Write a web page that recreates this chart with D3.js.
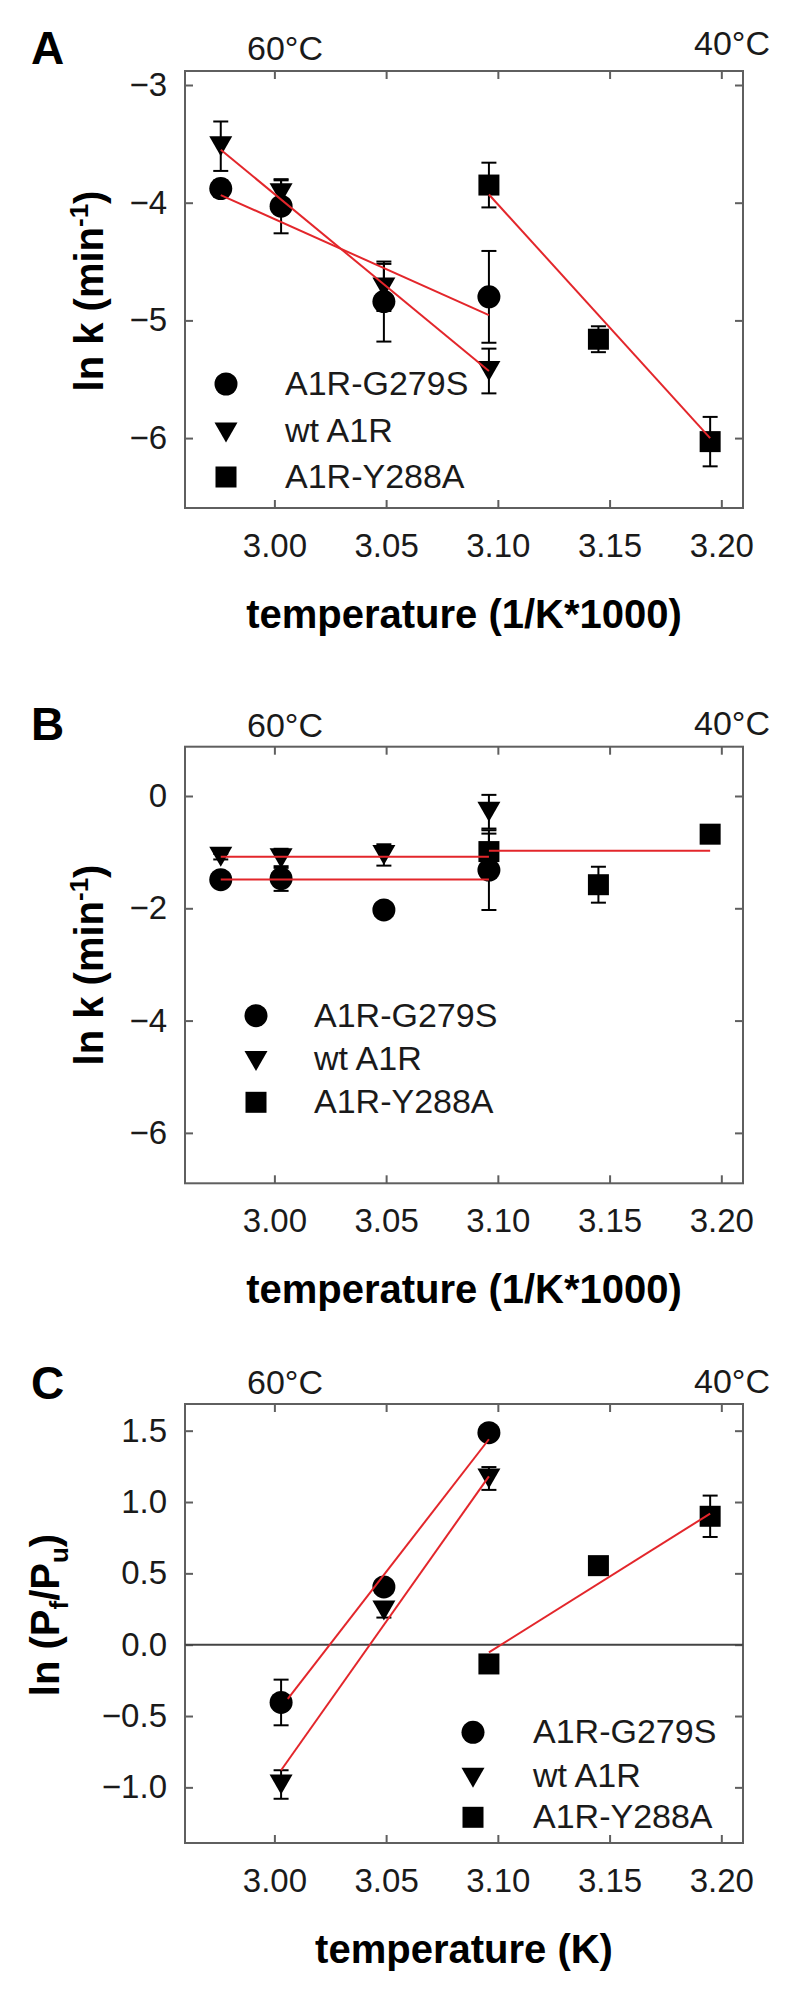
<!DOCTYPE html>
<html><head><meta charset="utf-8">
<script src="https://cdn.jsdelivr.net/npm/d3@7"></script>
<style>body{margin:0;background:#fff}</style>
</head><body>
<svg id="chart" width="800" height="2002" xmlns="http://www.w3.org/2000/svg"></svg>
<script>
// ---------- data ----------
const seriesNames = ["A1R-G279S", "wt A1R", "A1R-Y288A"];
const xTicks = [3.00, 3.05, 3.10, 3.15, 3.20];
const tempLabels = ["60°C", "40°C"];

// Panel A: ln k (min^-1)
const aTicks = [-3, -4, -5, -6];
const aX_G = [2.976, 3.003, 3.049, 3.096];
const aY_G = [-3.88, -4.03, -4.84, -4.80];
const aE_G = [0.07, 0.23, 0.34, 0.39];
const aX_W = [2.976, 3.003, 3.049, 3.096];
const aY_W = [-3.52, -3.92, -4.72, -5.43];
const aE_W = [0.21, 0.11, 0.20, 0.19];
const aX_Y = [3.096, 3.145, 3.195];
const aY_Y = [-3.85, -5.16, -6.03];
const aE_Y = [0.19, 0.11, 0.21];
const aFitX_G = [2.976, 3.096], aFitY_G = [-3.935, -4.955];
const aFitX_W = [2.976, 3.096], aFitY_W = [-3.55, -5.43];
const aFitX_Y = [3.096, 3.195], aFitY_Y = [-3.93, -6.00];

// Panel B: ln k (min^-1)
const bTicks = [0, -2, -4, -6];
const bX_G = [2.976, 3.003, 3.049, 3.096];
const bY_G = [-1.49, -1.47, -2.03, -1.32];
const bE_G = [0.08, 0.22, 0.0, 0.71];
const bX_W = [2.976, 3.003, 3.049, 3.096];
const bY_W = [-1.08, -1.11, -1.05, -0.28];
const bE_W = [0.05, 0.17, 0.19, 0.30];
const bX_Y = [3.096, 3.145, 3.195];
const bY_Y = [-0.99, -1.58, -0.68];
const bE_Y = [0.32, 0.32, 0.05];
const bFitX_G = [2.976, 3.096], bFitY_G = [-1.485, -1.485];
const bFitX_W = [2.976, 3.096], bFitY_W = [-1.08, -1.08];
const bFitX_Y = [3.096, 3.195], bFitY_Y = [-0.975, -0.975];

// Panel C: ln (Pf/Pu)
const cTicks = [1.5, 1.0, 0.5, 0.0, -0.5, -1.0];
const cX_G = [3.003, 3.049, 3.096];
const cY_G = [-0.405, 0.405, 1.486];
const cE_G = [0.16, 0.03, 0.03];
const cX_W = [3.003, 3.049, 3.096];
const cY_W = [-0.98, 0.24, 1.165];
const cE_W = [0.10, 0.05, 0.08];
const cX_Y = [3.096, 3.145, 3.195];
const cY_Y = [-0.135, 0.554, 0.90];
const cE_Y = [0.03, 0.03, 0.145];
const cFitX_G = [3.006, 3.096], cFitY_G = [-0.38, 1.44];
const cFitX_W = [3.003, 3.096], cFitY_W = [-0.88, 1.18];
const cFitX_Y = [3.096, 3.195], cFitY_Y = [-0.054, 0.919];

// ---------- drawing ----------
const svg = d3.select("#chart");
svg.append("rect").attr("width", 800).attr("height", 2002).attr("fill", "#fff");

const FONT = "'Liberation Sans', Arial, Helvetica, sans-serif";
const FRAME = "#5f5f5f";
const RED = "#e3262b";
const L = 185, R = 743;
const x = d3.scaleLinear().domain([2.96, 3.2097]).range([L, R]);

function zip(xs, ys, es) { return xs.map((v, i) => ({x: v, y: ys[i], e: es ? es[i] : 0})); }

function marker(sel, kind) {
  if (kind === 0) sel.append("circle").attr("r", 11.5).attr("fill", "#000");
  else if (kind === 1) sel.append("path").attr("d", "M-11.5,-10L11.5,-10L0,10Z").attr("fill", "#000");
  else sel.append("rect").attr("x", -10.5).attr("y", -10.5).attr("width", 21).attr("height", 21).attr("fill", "#000");
}

const panels = [
  {letter: "A", top: 71, bottom: 508, dom: [-6.594, -2.881], ticks: aTicks, fmt: d3.format("d"),
   letterY: 64, t60: 60, t40: 55, titleX: 103, titleY: 291, title: "k",
   series: [zip(aX_G, aY_G, aE_G), zip(aX_W, aY_W, aE_W), zip(aX_Y, aY_Y, aE_Y)],
   fits: [[aFitX_G, aFitY_G], [aFitX_W, aFitY_W], [aFitX_Y, aFitY_Y]],
   leg: {mx: 226, tx: 285, base: [395, 441.5, 488]}, xTitle: "temperature (1/K*1000)"},
  {letter: "B", top: 746.7, bottom: 1183.3, dom: [-6.898, 0.878], ticks: bTicks, fmt: d3.format("d"),
   letterY: 740, t60: 737, t40: 735, titleX: 103, titleY: 965, title: "k",
   series: [zip(bX_G, bY_G, bE_G), zip(bX_W, bY_W, bE_W), zip(bX_Y, bY_Y, bE_Y)],
   fits: [[bFitX_G, bFitY_G], [bFitX_W, bFitY_W], [bFitX_Y, bFitY_Y]],
   leg: {mx: 256, tx: 314, base: [1026.7, 1070, 1113.3]}, xTitle: "temperature (1/K*1000)"},
  {letter: "C", top: 1404, bottom: 1843, dom: [-1.39, 1.687], ticks: cTicks, fmt: d3.format(".1f"),
   letterY: 1399, t60: 1394, t40: 1393, titleX: 59, titleY: 1615, title: "p", zero: true,
   series: [zip(cX_G, cY_G, cE_G), zip(cX_W, cY_W, cE_W), zip(cX_Y, cY_Y, cE_Y)],
   fits: [[cFitX_G, cFitY_G], [cFitX_W, cFitY_W], [cFitX_Y, cFitY_Y]],
   leg: {mx: 473, tx: 533, base: [1743.3, 1786.7, 1828.3]}, xTitle: "temperature (K)"}
];

function styleAxis(g, size) {
  g.select(".domain").remove();
  g.selectAll(".tick line").attr("stroke", FRAME).attr("stroke-width", 2);
  g.selectAll(".tick text").attr("font-family", FONT).attr("font-size", size).attr("fill", "#1a1a1a");
}

panels.forEach(p => {
  const y = d3.scaleLinear().domain(p.dom).range([p.bottom, p.top]);
  const g = svg.append("g");

  // panel letter and temperature labels
  g.append("text").attr("x", 31).attr("y", p.letterY).text(p.letter)
    .attr("font-family", FONT).attr("font-weight", "bold").attr("font-size", 46).attr("fill", "#000");
  g.append("text").attr("x", 285).attr("y", p.t60).attr("text-anchor", "middle").text(tempLabels[0])
    .attr("font-family", FONT).attr("font-size", 34).attr("fill", "#1a1a1a");
  g.append("text").attr("x", 732).attr("y", p.t40).attr("text-anchor", "middle").text(tempLabels[1])
    .attr("font-family", FONT).attr("font-size", 34).attr("fill", "#1a1a1a");

  // axes (ticks inward on all four sides)
  g.append("g").attr("transform", `translate(0,${p.bottom})`)
    .call(d3.axisBottom(x).tickValues(xTicks).tickFormat(d3.format(".2f")).tickSize(-8).tickPadding(25.6))
    .call(a => styleAxis(a, 33));
  g.append("g").attr("transform", `translate(0,${p.top})`)
    .call(d3.axisTop(x).tickValues(xTicks).tickFormat("").tickSize(-8))
    .call(a => styleAxis(a, 33));
  g.append("g").attr("transform", `translate(${L},0)`)
    .call(d3.axisLeft(y).tickValues(p.ticks).tickFormat(p.fmt).tickSize(-8).tickPadding(18))
    .call(a => styleAxis(a, 33));
  g.append("g").attr("transform", `translate(${R},0)`)
    .call(d3.axisRight(y).tickValues(p.ticks).tickFormat("").tickSize(-8))
    .call(a => styleAxis(a, 33));

  // frame
  g.append("rect").attr("x", L).attr("y", p.top).attr("width", R - L).attr("height", p.bottom - p.top)
    .attr("fill", "none").attr("stroke", FRAME).attr("stroke-width", 2);

  if (p.zero) {
    g.append("line").attr("x1", L).attr("x2", R).attr("y1", y(0)).attr("y2", y(0))
      .attr("stroke", "#444").attr("stroke-width", 2);
  }

  // axis titles
  g.append("text").attr("x", (L + R) / 2).attr("y", p.bottom + 120).attr("text-anchor", "middle")
    .attr("font-family", FONT).attr("font-weight", "bold").attr("font-size", 40).attr("fill", "#000")
    .text(p.xTitle);

  const yt = g.append("text").attr("transform", `translate(${p.titleX},${p.titleY}) rotate(-90)`)
    .attr("text-anchor", "middle").attr("font-family", FONT).attr("font-weight", "bold")
    .attr("font-size", 40).attr("fill", "#000");
  if (p.title === "k") {
    yt.append("tspan").text("ln k (min");
    yt.append("tspan").attr("dy", -15).attr("font-size", 26).text("-1");
    yt.append("tspan").attr("dy", 15).text(")");
  } else {
    yt.append("tspan").text("ln (P");
    yt.append("tspan").attr("dy", 9).attr("font-size", 26).text("f");
    yt.append("tspan").attr("dy", -9).text("/P");
    yt.append("tspan").attr("dy", 9).attr("font-size", 26).text("u");
    yt.append("tspan").attr("dy", -9).text(")");
  }

  // error bars
  p.series.forEach(s => {
    s.filter(d => d.e > 0).forEach(d => {
      const cx = x(d.x), y1 = y(d.y - d.e), y2 = y(d.y + d.e);
      g.append("line").attr("x1", cx).attr("x2", cx).attr("y1", y1).attr("y2", y2)
        .attr("stroke", "#000").attr("stroke-width", 2);
      [y1, y2].forEach(yy => g.append("line").attr("x1", cx - 7.5).attr("x2", cx + 7.5)
        .attr("y1", yy).attr("y2", yy).attr("stroke", "#000").attr("stroke-width", 2));
    });
  });

  // markers
  p.series.forEach((s, k) => {
    s.forEach(d => {
      const m = g.append("g").attr("transform", `translate(${x(d.x)},${y(d.y)})`);
      marker(m, k);
    });
  });

  // fitted lines
  const line = d3.line().x(d => x(d[0])).y(d => y(d[1]));
  p.fits.forEach(f => {
    g.append("path").attr("d", line(f[0].map((v, i) => [v, f[1][i]])))
      .attr("fill", "none").attr("stroke", RED).attr("stroke-width", 2);
  });

  // legend
  seriesNames.forEach((name, k) => {
    const b = p.leg.base[k];
    const m = g.append("g").attr("transform", `translate(${p.leg.mx},${b - (k === 1 ? 9 : 11)})`);
    marker(m, k);
    g.append("text").attr("x", p.leg.tx).attr("y", b).text(name)
      .attr("font-family", FONT).attr("font-size", 34).attr("fill", "#1a1a1a");
  });
});
</script>
</body></html>
